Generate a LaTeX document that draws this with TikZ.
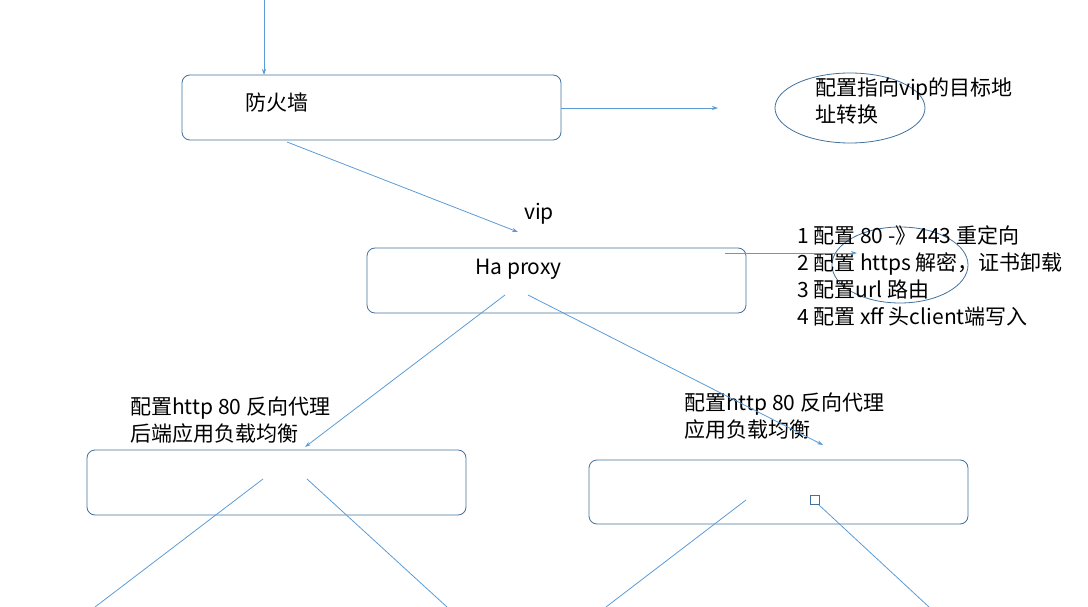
\documentclass[tikz,border=0pt]{standalone}
\usepackage{fontspec}
\setmainfont{Carlito}
\newfontfamily\cjk{Noto Sans CJK SC}
\usetikzlibrary{arrows.meta}
\usetikzlibrary{shapes.geometric}
\definecolor{linecol}{HTML}{5B9BD5}
\definecolor{boxcol}{HTML}{41719C}

\begin{document}
\begin{tikzpicture}[x=1pt,y=-1pt,>={Stealth[length=6pt,width=4pt]},
  line/.style={draw=linecol,line width=0.8pt},
  main box/.style={draw=boxcol,rounded corners=8pt,line width=0.8pt},
  note/.style={font=\fontsize{21}{27}\selectfont\cjk,anchor=north west,align=left,inner sep=0pt}]
  \useasboundingbox (0,0) rectangle (1088,607);
  % boxes
  \draw[main box] (182,75) rectangle (561,140);
  \draw[main box] (367,248) rectangle (746,313);
  \draw[main box] (87,450) rectangle (466,515);
  \draw[main box] (589,460) rectangle (968,524);
  \draw[main box,rounded corners=0] (810,495) rectangle (819,504);
  \draw[main box] (850,108) ellipse (75 and 35);
  \draw[main box] (900,265) ellipse (68 and 38);
  % labels
  \node[note] (fw) at (245,93) {防火墙};
  \node[note] (nat) at (815,78) {配置指向vip的目标地\\址转换};
  \node[note] (vip) at (524,203) {vip};
  \node[note] (ha) at (475,259) {Ha proxy};
  \node[note] (list) at (797,226) {1 配置 80 -》443 重定向\\2 配置 https 解密，证书卸载\\3 配置url 路由\\4 配置 xff 头client端写入};
  \node[note] (left) at (130,397) {配置http 80 反向代理\\后端应用负载均衡};
  \node[note] (right) at (684,393) {配置http 80 反向代理\\应用负载均衡};
  % end points
  \coordinate (in) at (264,0);
  \coordinate (fwT) at (264,75);
  \coordinate (fwR) at (561,108);
  \coordinate (natL) at (718,108);
  \coordinate (fwB) at (287,142);
  \coordinate (haT) at (518,232);
  \coordinate (haR) at (725,253);
  \coordinate (listL) at (857,253);
  \coordinate (haB1) at (505,295);
  \coordinate (haB2) at (528,295);
  \coordinate (l) at (305,447);
  \coordinate (r) at (823,445);
  % arrows
  \draw[line,->] (in) -- (fwT);
  \draw[line,->] (fwR) -- (natL);
  \draw[line,->] (fwB) -- (haT);
  \draw[line,->] (haR) -- (listL);
  \draw[line,->] (haB1) -- (l);
  \draw[line,->] (haB2) -- (r);
  \draw[line] (263,479) -- (95,607);
  \draw[line] (307,479) -- (447,607);
  \draw[line] (746,500) -- (606,607);
  \draw[line] (819,505) -- (929,607);
\end{tikzpicture}
\end{document}
